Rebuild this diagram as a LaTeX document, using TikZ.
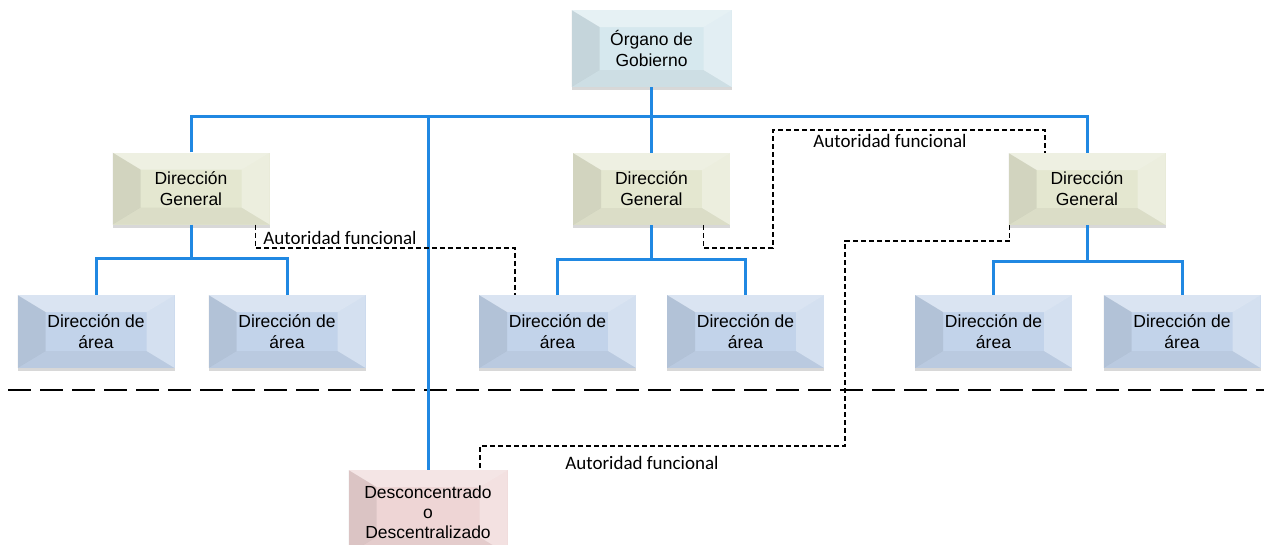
\documentclass[tikz,border=0pt]{standalone}
\usepackage{fontspec}
\setmainfont{Liberation Sans}
\newfontfamily\calib{Carlito}
\usetikzlibrary{shadows,calc}
\definecolor{cOG}{RGB}{214,232,238}
\definecolor{cDG}{RGB}{228,231,208}
\definecolor{cDA}{RGB}{194,211,234}
\definecolor{cDC}{RGB}{238,213,213}
\definecolor{cBlue}{RGB}{32,136,226}
\begin{document}
\begin{tikzpicture}[x=1pt,y=-1pt,
  bevelbox/.style={fill=#1, minimum width=157pt, minimum height=73pt, inner sep=0pt,
    align=center, font=\fontsize{17.5}{21}\selectfont,
    drop shadow={shadow xshift=0pt, shadow yshift=-3pt, opacity=.22, fill=black!70},
    path picture={
      \coordinate (pNW) at (path picture bounding box.north west);
      \coordinate (pNE) at (path picture bounding box.north east);
      \coordinate (pSW) at (path picture bounding box.south west);
      \coordinate (pSE) at (path picture bounding box.south east);
      \fill[white,opacity=.40] (pNW) -- (pNE) -- ([shift={(-28pt,-17pt)}]pNE) -- ([shift={(28pt,-17pt)}]pNW) -- cycle;
      \fill[black,opacity=.08] (pNW) -- ([shift={(28pt,-17pt)}]pNW) -- ([shift={(28pt,17pt)}]pSW) -- (pSW) -- cycle;
      \fill[white,opacity=.30] (pNE) -- ([shift={(-28pt,-17pt)}]pNE) -- ([shift={(-28pt,17pt)}]pSE) -- (pSE) -- cycle;
      \fill[black,opacity=.04] (pSW) -- ([shift={(28pt,17pt)}]pSW) -- ([shift={(-28pt,17pt)}]pSE) -- (pSE) -- cycle;
    }},
  bl/.style={draw=cBlue, line width=3pt},
  dl/.style={draw=black, line width=1.3pt, dash pattern=on 5pt off 3pt},
  sep/.style={draw=black, line width=2.5pt, dash pattern=on 23pt off 9pt},
  lab/.style={font=\calib\fontsize{19}{21}\selectfont, anchor=base, inner sep=0pt}
]
\useasboundingbox (0,0) rectangle (1272,544);

% separator
\draw[sep] (8,390) -- (1264,390);

% nodes
\node[bevelbox=cOG, minimum width=160pt, minimum height=77pt] (og) at (651.5,48.5) {Órgano de\\Gobierno};
\node[bevelbox=cDG, minimum height=72pt] (dg1) at (191,188.5) {Dirección\\General};
\node[bevelbox=cDG, minimum height=72pt] (dg2) at (651.5,189) {Dirección\\General};
\node[bevelbox=cDG, minimum height=72pt] (dg3) at (1087,189) {Dirección\\General};
\node[bevelbox=cDA] (a1) at (96,331.5) {Dirección de\\área};
\node[bevelbox=cDA] (a2) at (287,331.5) {Dirección de\\área};
\node[bevelbox=cDA] (a3) at (557.5,331.5) {Dirección de\\área};
\node[bevelbox=cDA] (a4) at (745.5,331.5) {Dirección de\\área};
\node[bevelbox=cDA] (a5) at (993.5,331.5) {Dirección de\\área};
\node[bevelbox=cDA] (a6) at (1182,331.5) {Dirección de\\área};
\node[bevelbox=cDC, minimum width=159pt, minimum height=84pt, font=\fontsize{17.5}{20}\selectfont] (dc) at (428,512) {Desconcentrado\\o\\Descentralizado};

% blue connectors
\coordinate (bus) at (651.5,116);
\draw[bl] (og.south) -- (dg2.north);
\draw[bl] (dg1.north) |- (bus) -| (dg3.north);
\draw[bl] (dc.north) -- (dc.north |- bus);
\draw[bl] (dg1.south) -- ++(0,34) coordinate (j1);
\draw[bl] (a1.north) |- (j1) -| (a2.north);
\draw[bl] (dg2.south) -- ++(0,34.5) coordinate (j2);
\draw[bl] (a3.north) |- (j2) -| (a4.north);
\draw[bl] (dg3.south) -- ++(0,36) coordinate (j3);
\draw[bl] (a5.north) |- (j3) -| (a6.north);

% functional authority (dashed)
\draw[dl] ([xshift=-14.5pt]dg1.south east) |- (515,248) -- ([xshift=-42.5pt]a3.north);
\node[lab] (l1) at (340,244) {Autoridad funcional};

\draw[dl] ([xshift=-27pt]dg2.south east) |- (773,248) -- (773,130) -| ([xshift=-42pt]dg3.north);
\node[lab] (l2) at (890,147) {Autoridad funcional};

\draw[dl] ([xshift=1.5pt]dg3.south west) |- (845,241) -- (845,446) -| ([xshift=52pt]dc.north);
\node[lab] (l3) at (642,469) {Autoridad funcional};
\end{tikzpicture}
\end{document}
